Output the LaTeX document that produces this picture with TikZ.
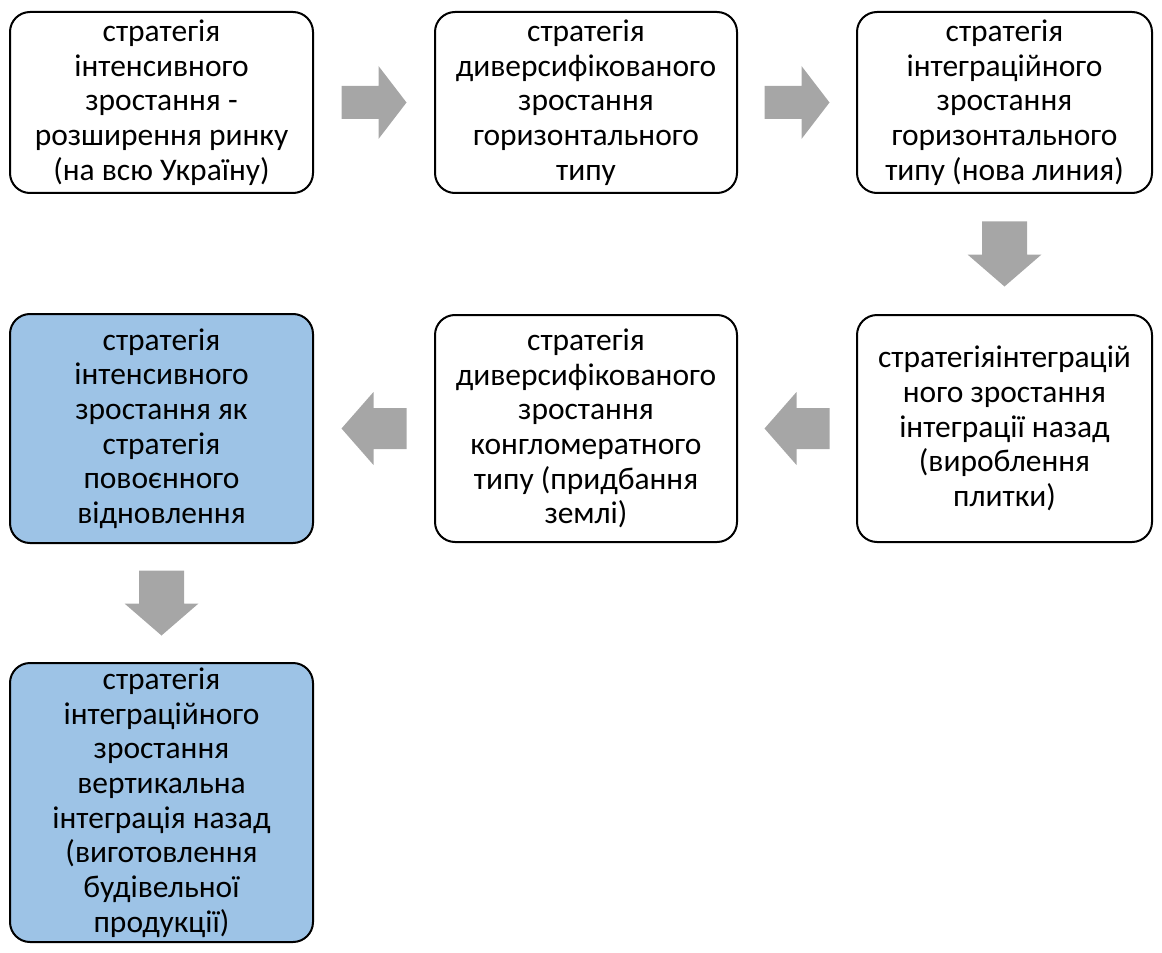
\documentclass[tikz,border=0pt]{standalone}
\usepackage{fontspec}
\setmainfont{Carlito}
\usetikzlibrary{calc}
\definecolor{boxblue}{RGB}{157,195,230}
\definecolor{arrowgrey}{RGB}{166,166,166}
\tikzset{
  stratbox/.style={draw=black, line width=1.5pt, rounded corners=15pt, fill=white,
    align=center, inner sep=0pt, font=\fontsize{23.6}{26}\selectfont},
  bluebox/.style={stratbox, fill=boxblue},
  blockarrow/.style={fill=arrowgrey, draw=none}
}
% #1 centre, #2 rotation, #3 length, #4 head width, #5 shaft width, #6 head length
\newcommand\blockarr[6]{%
  \begin{scope}[shift={(#1)}, rotate=#2]
    \fill[blockarrow] (-#3/2,-#5/2) -- (#3/2-#6,-#5/2) -- (#3/2-#6,-#4/2) -- (#3/2,0)
      -- (#3/2-#6,#4/2) -- (#3/2-#6,#5/2) -- (-#3/2,#5/2) -- cycle;
  \end{scope}}
\begin{document}
\begin{tikzpicture}[x=0.75pt, y=-0.75pt]
\useasboundingbox (0,0) rectangle (1162,952);

\node[stratbox, minimum width=303*0.75pt, minimum height=181*0.75pt] (b1) at (161.5,102.5)
  {стратегія\\інтенсивного\\зростання -\\розширення ринку\\(на всю Україну)};
\node[stratbox, minimum width=302*0.75pt, minimum height=181*0.75pt] (b2) at (586,102.5)
  {стратегія\\диверсифікованого\\зростання\\горизонтального\\типу};
\node[stratbox, minimum width=295*0.75pt, minimum height=181*0.75pt] (b3) at (1004.5,102.5)
  {стратегія\\інтеграційного\\зростання\\горизонтального\\типу (нова линия)};
\node[stratbox, minimum width=295*0.75pt, minimum height=227*0.75pt] (b6) at (1004.5,428.5)
  {стратегіяінтеграцій\\ного зростання\\інтеграції назад\\(вироблення\\плитки)};
\node[stratbox, minimum width=302*0.75pt, minimum height=227*0.75pt] (b5) at (586,428.5)
  {стратегія\\диверсифікованого\\зростання\\конгломератного\\типу (придбання\\землі)};
\node[bluebox, minimum width=303*0.75pt, minimum height=229*0.75pt] (b4) at (161.5,428.5)
  {стратегія\\інтенсивного\\зростання як\\стратегія\\повоєнного\\відновлення};
\node[bluebox, minimum width=303*0.75pt, minimum height=279*0.75pt] (b7) at (161.5,802.5)
  {стратегія\\інтеграційного\\зростання\\вертикальна\\інтеграція назад\\(виготовлення\\будівельної\\продукції)};

\coordinate (a1) at ($(b1.east)!0.5!(b2.west)$);
\coordinate (a2) at ($(b2.east)!0.5!(b3.west)$);
\coordinate (a3) at ($(b3.south)!0.5!(b6.north)$);
\coordinate (a4) at ($(b6.west)!0.5!(b5.east)$);
\coordinate (a5) at ($(b5.west)!0.5!(b4.east)$);
\coordinate (a6) at ($(b4.south)!0.5!(b7.north)$);

\blockarr{a1}{0}{65}{73}{33}{28}
\blockarr{a2}{0}{65}{73}{33}{28}
\blockarr{a3}{-90}{65}{74}{45}{32}
\blockarr{a4}{180}{65}{73}{41}{32}
\blockarr{a5}{180}{65}{73}{41}{32}
\blockarr{a6}{-90}{65}{74}{45}{32}
\end{tikzpicture}
\end{document}
